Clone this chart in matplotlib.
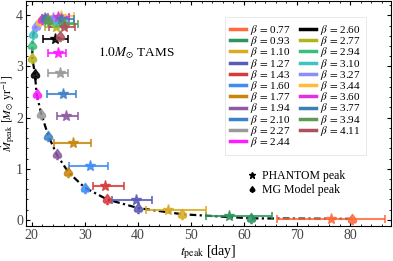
import numpy as np
import matplotlib.pyplot as plt
from matplotlib.lines import Line2D
from matplotlib.textpath import TextPath
from matplotlib.font_manager import FontProperties
from matplotlib.path import Path

plt.rcParams['font.family'] = ['Liberation Serif', 'DejaVu Serif']
plt.rcParams['mathtext.fontset'] = 'stix'

# beta values and colours
betas = ['0.77', '0.93', '1.10', '1.27', '1.43', '1.60', '1.77', '1.94', '2.10', '2.27', '2.44',
         '2.60', '2.77', '2.94', '3.10', '3.27', '3.44', '3.60', '3.77', '3.94', '4.11']
colors = ['#FF6A3D', '#2E9460', '#D9AA22', '#5A5AB8', '#D63A3A', '#3F8CF5', '#C7860A', '#8E5AA3',
          '#3C82C8', '#9A9A9A', '#FF1AFF', '#000000', '#B4B41A', '#3CBF7E', '#3EC4C4', '#8C8CFF',
          '#FFBB3A', '#E030E0', '#3B80B3', '#5F9A55', '#B0505E']

# PHANTOM peak: time, rate, error range in time
t_ph = [76.4, 57.2, 45.7, 39.6, 33.8, 31.0, 27.7, 26.5, 25.8, 25.3, 25.0,
        24.3, 24.5, 25.0, 24.5, 24.0, 25.5, 25.0, 25.5, 26.0, 26.0]
m_ph = [0.02, 0.08, 0.19, 0.39, 0.67, 1.05, 1.51, 2.04, 2.46, 2.88, 3.27,
        3.53, 3.78, 3.86, 3.88, 3.95, 3.99, 3.97, 3.92, 3.84, 3.77]
t_lo = [66.3, 52.8, 41.5, 35.2, 31.6, 27.0, 24.2, 24.7, 22.9, 23.1, 23.1,
        22.1, 22.5, 22.5, 22.0, 22.0, 22.5, 23.0, 22.5, 23.5, 23.2]
t_hi = [86.6, 65.2, 52.8, 42.7, 37.4, 34.4, 31.1, 28.7, 28.3, 26.8, 26.5,
        26.8, 26.5, 28.0, 27.0, 27.0, 28.0, 27.0, 28.0, 28.7, 28.2]

# MG model peak
t_mg = [80.3, 61.3, 48.4, 40.1, 34.2, 30.0, 26.9, 24.7, 23.1, 21.8, 20.9,
        20.6, 20.1, 20.1, 20.3, 20.8, 21.5, 22.0, 22.5, 23.0, 25.3]
m_mg = [0.02, 0.03, 0.11, 0.23, 0.40, 0.63, 0.93, 1.28, 1.65, 2.07, 2.46,
        2.85, 3.16, 3.42, 3.63, 3.79, 3.88, 3.92, 3.94, 3.90, 3.59]

# spade marker built from a glyph
tp = TextPath((0, 0), '\u2660', size=1, prop=FontProperties(family='DejaVu Sans'))
v = tp.vertices
ext = tp.get_extents()
v = (v - [(ext.x0 + ext.x1) / 2, (ext.y0 + ext.y1) / 2])
spade = Path(v, tp.codes)

fig = plt.figure(figsize=(3.93, 2.61), dpi=100)
ax = fig.add_axes([0.066, 0.134, 0.929, 0.864])

# fit curve through model peaks
ax.plot(t_mg[:20], m_mg[:20], color='black', ls=(0, (3, 1.5, 1, 1.5)), lw=1.6, zorder=1)

for i in range(len(betas)):
    xerr = [[t_ph[i] - t_lo[i]], [t_hi[i] - t_ph[i]]]
    ax.errorbar([t_ph[i]], [m_ph[i]], xerr=xerr, fmt='*', color=colors[i], ms=8,
                capsize=3, elinewidth=1.5, capthick=1.3, alpha=0.85, zorder=3)
    ax.plot(t_mg[i], m_mg[i], marker=spade, color=colors[i], ms=9,
            ls='none', alpha=0.85, zorder=4)

ax.set_xlim(18.9, 87.7)
ax.set_ylim(-0.12, 4.29)
ax.set_xticks([20, 30, 40, 50, 60, 70, 80])
ax.set_yticks([0, 1, 2, 3, 4])
ax.set_xticks(np.arange(20, 88, 2), minor=True)
ax.set_yticks(np.arange(0, 4.3, 0.2), minor=True)
ax.tick_params(which='both', direction='in', top=True, right=True, labelcolor='#444444',
               labelsize=10, pad=2)
ax.tick_params(which='major', length=3)
ax.tick_params(which='minor', length=1.5)

ax.set_xlabel(r'$t_{\rm peak}$ [day]', fontsize=10)
ax.set_ylabel(r'$\dot{M}_{\rm peak}\ [M_{\odot}\ {\rm yr}^{-1}]$', fontsize=8.5)
ax.xaxis.set_label_coords(0.5, -0.075)
ax.yaxis.set_label_coords(-0.024, 0.5)

ax.text(39.6, 3.26, r'$1.0M_{\odot}$ TAMS', fontsize=9.5, ha='center', va='center')

handles = [Line2D([], [], color=c, lw=2.5) for c in colors]
labels = [r'$\beta\,=\,$' + b for b in betas]
leg1 = ax.legend(handles, labels, ncol=2, loc='upper right', bbox_to_anchor=(0.948, 0.95),
                 fontsize=8, handlelength=1.4, handletextpad=0.4, columnspacing=0.8,
                 labelspacing=-0.25, frameon=True, fancybox=False, edgecolor='#dddddd',
                 borderpad=0.5)
leg1.get_frame().set_linewidth(0.6)
ax.add_artist(leg1)

h2 = [Line2D([], [], color='black', marker='*', ls='none', ms=5),
      Line2D([], [], color='black', marker=spade, ls='none', ms=5)]
ax.legend(h2, ['PHANTOM peak', 'MG Model peak'], loc='upper left', bbox_to_anchor=(0.578, 0.295),
          fontsize=8.5, handlelength=0.8, handletextpad=0.4, labelspacing=0.2, frameon=False)

fig.savefig('out.png', dpi=100)
